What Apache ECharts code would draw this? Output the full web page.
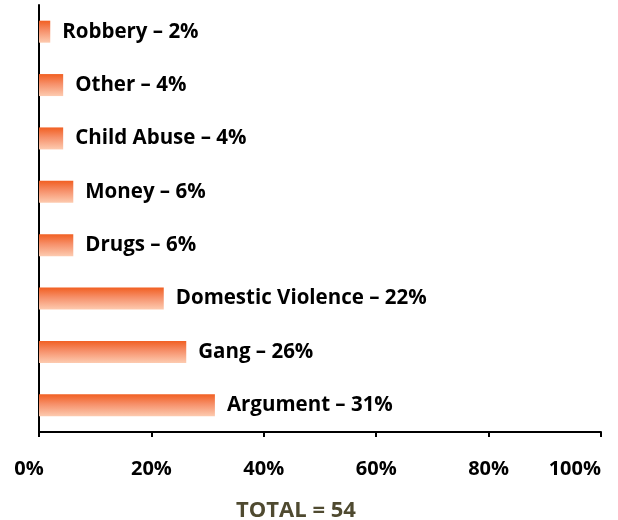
<!DOCTYPE html>
<html>
<head>
<meta charset="utf-8">
<script src="https://cdn.jsdelivr.net/npm/echarts@6/dist/echarts.min.js"></script>
<style>html,body{margin:0;padding:0;background:#fff;}#c{width:618px;height:520px;}</style>
</head>
<body>
<div id="c"></div>
<script>
const categories = ['Argument', 'Gang', 'Domestic Violence', 'Drugs', 'Money', 'Child Abuse', 'Other', 'Robbery'];
const values = [31.3, 26.2, 22.2, 6.1, 6.1, 4.3, 4.3, 2.0];
const labelPct = [31, 26, 22, 6, 6, 4, 4, 2];
const xTicks = [0, 20, 40, 60, 80, 100];
const totalText = 'TOTAL = 54';

const chart = echarts.init(document.getElementById('c'), null, {renderer: 'canvas'});
const FONT = '"Open Sans", "DejaVu Sans", sans-serif';
chart.setOption({
  animation: false,
  title: {
    text: totalText,
    left: 291, top: 495,
    textAlign: 'center',
    textStyle: {color: '#4f4a30', fontFamily: FONT, fontWeight: 'bold', fontSize: 22}
  },
  grid: {left: 39, right: 17, top: 5, bottom: 88, containLabel: false},
  xAxis: {
    type: 'value', min: 0, max: 100, interval: 20,
    axisLine: {show: true, lineStyle: {color: '#000', width: 2}},
    axisTick: {show: true, inside: false, length: 5, lineStyle: {color: '#000', width: 2}},
    splitLine: {show: false},
    axisLabel: {
      margin: 27,
      color: '#000', fontFamily: FONT, fontWeight: 'bold', fontSize: 20,
      formatter: function (v) {
        if (v === xTicks[0]) return '{min|' + v + '%}';
        return v + '%';
      },
      rich: {min: {color: '#000', fontFamily: FONT, fontWeight: 'bold', fontSize: 20, padding: [0, 20, 0, 0]}},
      alignMaxLabel: 'right'
    }
  },
  yAxis: {
    type: 'category', data: categories,
    axisLine: {show: true, lineStyle: {color: '#000', width: 2}},
    axisTick: {show: false},
    axisLabel: {show: false}
  },
  series: [{
    type: 'bar',
    data: values,
    barWidth: 22,
    itemStyle: {
      color: new echarts.graphic.LinearGradient(0, 0, 0, 1, [
        {offset: 0, color: '#f15f22'},
        {offset: 0.45, color: '#f6906a'},
        {offset: 1, color: '#fdcbb0'}
      ])
    },
    label: {
      show: true, position: 'right', distance: 12,
      color: '#000', fontFamily: FONT, fontWeight: 'bold', fontSize: 20.5,
      formatter: function (p) { return p.name + ' \u2013 ' + labelPct[p.dataIndex] + '%'; }
    }
  }]
});
</script>
</body>
</html>
